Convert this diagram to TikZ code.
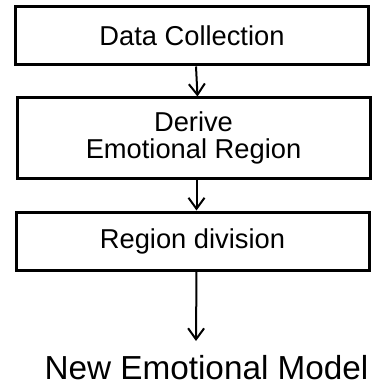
\documentclass[tikz,border=0pt]{standalone}
\usepackage{fontspec}
\setmainfont{Liberation Sans}
\usetikzlibrary{arrows.meta}
\begin{document}
\begin{tikzpicture}[x=1pt, y=-1pt]
    \tikzstyle{stage}=[draw, line width=3pt, minimum width=353pt, inner sep=0pt, align=center, font=\fontsize{27.3}{27}\selectfont]
    \tikzstyle{flow}=[line width=2pt, -{Straight Barb[length=11pt, width=16pt, line width=2pt]}]
    \useasboundingbox (0,0) rectangle (372,385);
    % stages
    \node[stage, minimum height=58pt] (collect) at (192,36) {Data Collection};
    \node[stage, minimum height=80pt] (derive) at (193.5,138) {Derive\\Emotional Region};
    \node[stage, minimum height=58pt] (divide) at (192.5,241) {Region division};
    % result
    \node[font=\fontsize{33.3}{36}\selectfont, inner sep=0pt, anchor=base] (model) at (206.5,379) {New Emotional Model};
    \coordinate (tip) at (196,341);
    \draw[flow] ([xshift=4pt]collect.south) -- ([xshift=4pt]derive.north);
    \draw[flow] ([xshift=3pt]derive.south) -- ([xshift=4pt]divide.north);
    \draw[flow] ([xshift=4pt]divide.south) -- (tip);
\end{tikzpicture}
\end{document}
